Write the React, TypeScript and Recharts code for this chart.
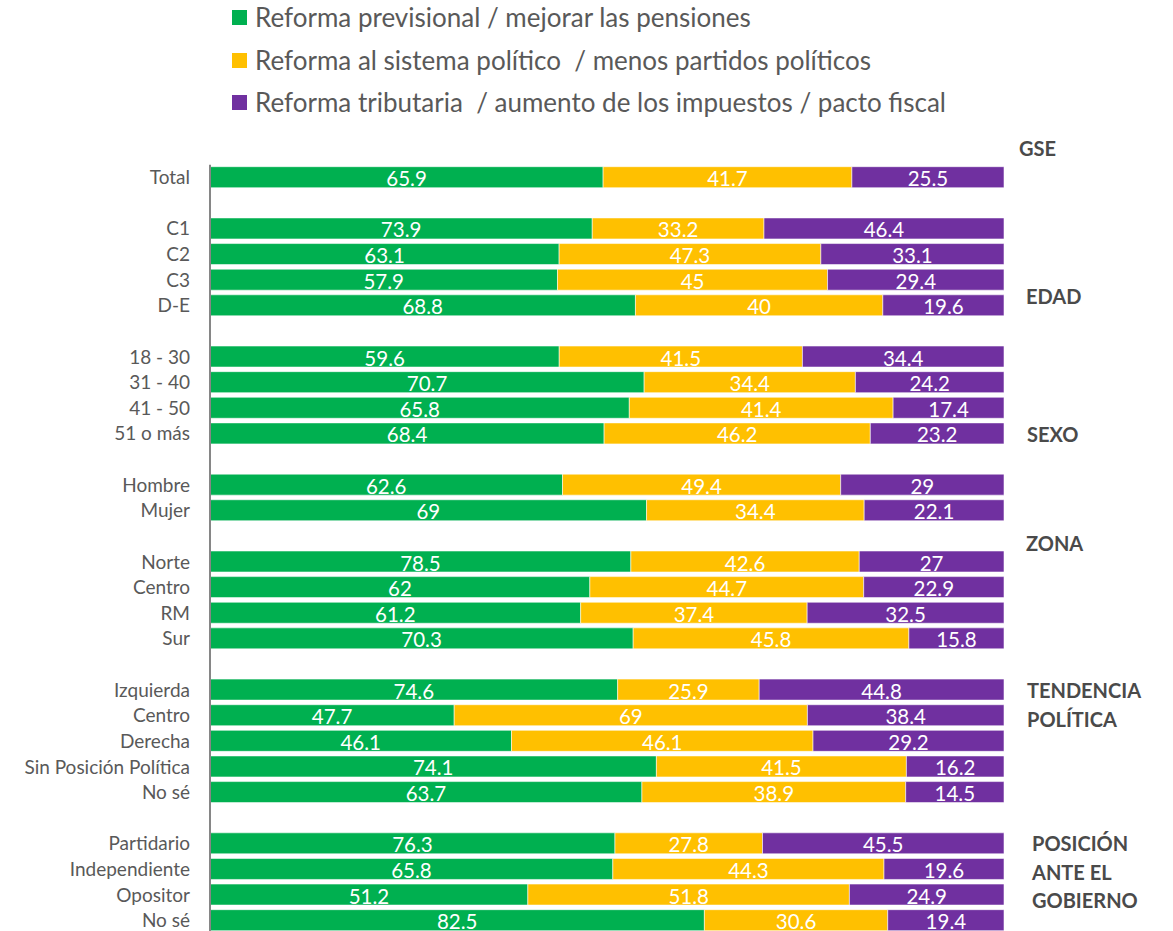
import React from "react";
import { Bar, BarChart, LabelList, XAxis, YAxis } from "recharts";

// blank strings are the spacer rows between groups
const categories = [
  "Total", "",
  "C1", "C2", "C3", "D-E", "",
  "18 - 30", "31 - 40", "41 - 50", "51 o más", "",
  "Hombre", "Mujer", "",
  "Norte", "Centro", "RM", "Sur", "",
  "Izquierda", "Centro", "Derecha", "Sin Posición Política", "No sé", "",
  "Partidario ", "Independiente", "Opositor", "No sé",
];

const pensiones = [
  65.9, null,
  73.9, 63.1, 57.9, 68.8, null,
  59.6, 70.7, 65.8, 68.4, null,
  62.6, 69, null,
  78.5, 62, 61.2, 70.3, null,
  74.6, 47.7, 46.1, 74.1, 63.7, null,
  76.3, 65.8, 51.2, 82.5,
];

const politico = [
  41.7, null,
  33.2, 47.3, 45, 40, null,
  41.5, 34.4, 41.4, 46.2, null,
  49.4, 34.4, null,
  42.6, 44.7, 37.4, 45.8, null,
  25.9, 69, 46.1, 41.5, 38.9, null,
  27.8, 44.3, 51.8, 30.6,
];

const tributaria = [
  25.5, null,
  46.4, 33.1, 29.4, 19.6, null,
  34.4, 24.2, 17.4, 23.2, null,
  29, 22.1, null,
  27, 22.9, 32.5, 15.8, null,
  44.8, 38.4, 29.2, 16.2, 14.5, null,
  45.5, 19.6, 24.9, 19.4,
];

const seriesNames = [
  "Reforma previsional / mejorar las pensiones",
  "Reforma al sistema político  / menos partidos políticos",
  "Reforma tributaria  / aumento de los impuestos / pacto fiscal",
];
const colors = ["#00B050", "#FFC000", "#7030A0"];

const groupLabels = [
  { lines: ["GSE"], x: 1019, y: 148 },
  { lines: ["EDAD"], x: 1026, y: 296 },
  { lines: ["SEXO"], x: 1027, y: 434 },
  { lines: ["ZONA"], x: 1026, y: 543 },
  { lines: ["TENDENCIA", "POLÍTICA"], x: 1027, y: 690 },
  { lines: ["POSICIÓN", "ANTE EL", "GOBIERNO"], x: 1032, y: 843 },
];

const data = categories.map((c, i) => ({
  id: i,
  label: c,
  pensiones: pensiones[i],
  politico: politico[i],
  tributaria: tributaria[i],
}));

const FONT = "Lato, 'Open Sans', sans-serif";

function ValueLabel(props: any) {
  const { x, y, width, height, value } = props;
  if (value === null || value === undefined) return null;
  return (
    <text
      x={x + width / 2}
      y={y + height / 2 + 1}
      textAnchor="middle"
      dominantBaseline="central"
      fill="#ffffff"
      fontSize={20.5}
      fontFamily={FONT}
    >
      {value}
    </text>
  );
}

export default function App() {
  const keys = ["pensiones", "politico", "tributaria"];
  return (
    <div
      style={{
        position: "absolute",
        left: 0,
        top: 0,
        width: 1173,
        height: 931,
        overflow: "hidden",
        background: "#fff",
        fontFamily: FONT,
      }}
    >
      {seriesNames.map((name, i) => (
        <div
          key={name}
          style={{
            position: "absolute",
            left: 232,
            top: [17, 60, 102][i] - 15,
            height: 30,
            display: "flex",
            alignItems: "center",
            fontSize: 26,
            color: "#595959",
            whiteSpace: "pre",
          }}
        >
          <span
            style={{
              width: 15,
              height: 15,
              background: colors[i],
              marginRight: 8,
              display: "inline-block",
            }}
          />
          {name}
        </div>
      ))}

      {groupLabels.map((g) => (
        <div
          key={g.lines[0]}
          style={{
            position: "absolute",
            left: g.x,
            top: g.y - 14,
            lineHeight: "28.5px",
            fontSize: 20,
            fontWeight: 700,
            color: "#4a4a4a",
          }}
        >
          {g.lines.map((l) => (
            <div key={l}>{l}</div>
          ))}
        </div>
      ))}

      <div style={{ position: "absolute", left: 0, top: 0 }}>
        <BarChart
          width={1173}
          height={945}
          data={data}
          layout="vertical"
          stackOffset="expand"
          barSize={21}
          margin={{ top: 164.7, right: 169, bottom: 11.7, left: 0 }}
        >
          <XAxis type="number" domain={[0, 1]} hide />
          <YAxis
            type="category"
            dataKey="id"
            width={210}
            tickFormatter={(v: number) => categories[v]}
            axisLine={{ stroke: "#868686", strokeWidth: 2 }}
            tickLine={false}
            tickSize={0}
            tickMargin={20}
            interval={0}
            tick={{ fill: "#595959", fontSize: 19, fontFamily: FONT }}
          />
          {keys.map((k, i) => (
            <Bar
              key={k}
              dataKey={k}
              name={seriesNames[i]}
              stackId="a"
              fill={colors[i]}
              stroke="#ffffff"
              strokeOpacity={0.55}
              strokeWidth={1}
              isAnimationActive={false}
            >
              <LabelList dataKey={k} content={<ValueLabel />} />
            </Bar>
          ))}
        </BarChart>
      </div>
    </div>
  );
}
